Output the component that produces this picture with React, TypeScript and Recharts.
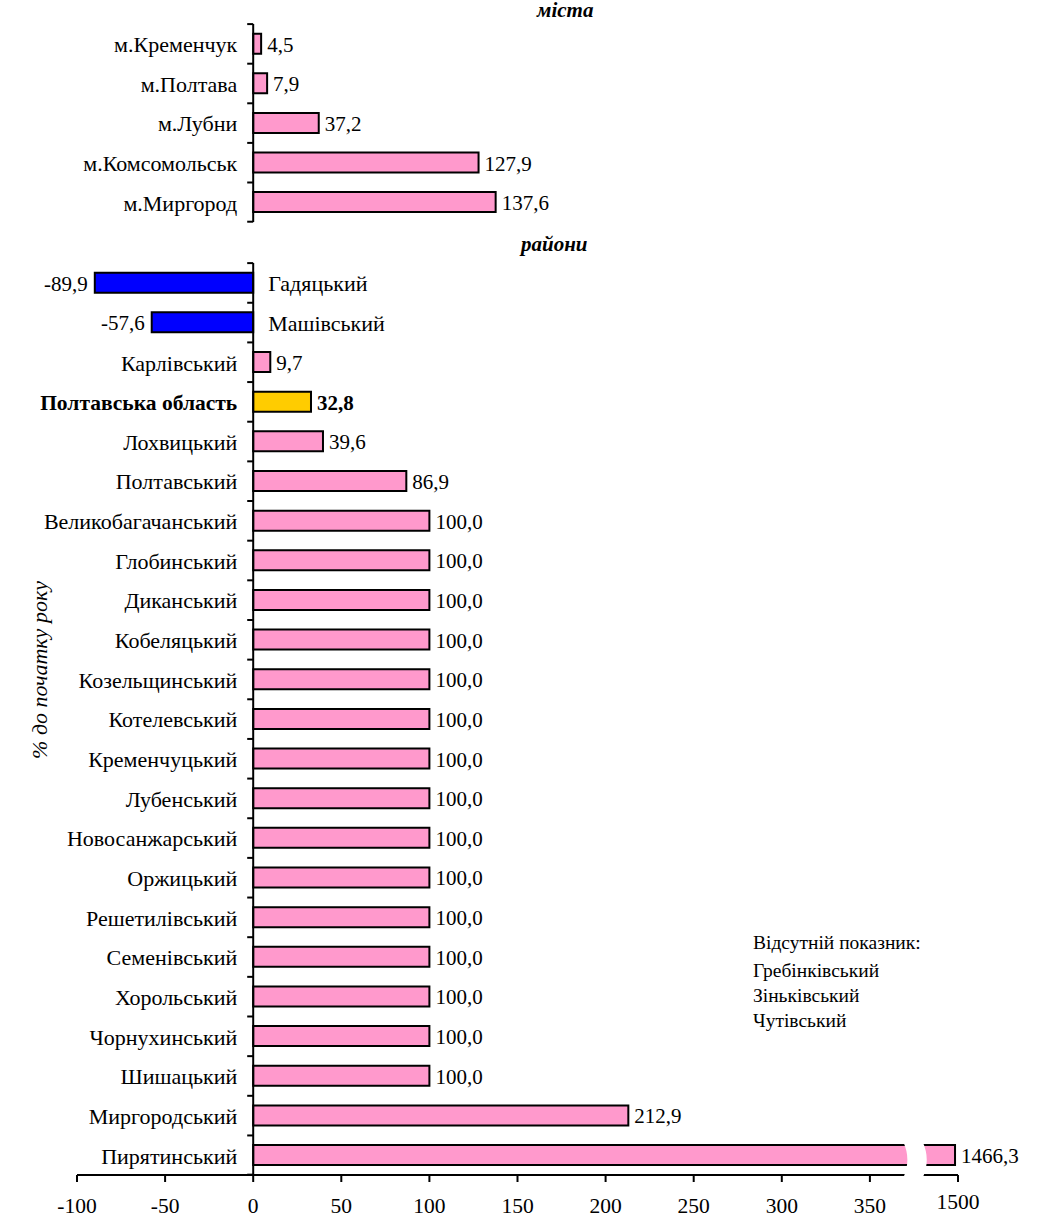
import { Bar, BarChart, Cell, LabelList, ReferenceLine, XAxis, YAxis } from "recharts"

// міста
const cityNames = ['м.Кременчук', 'м.Полтава', 'м.Лубни', 'м.Комсомольськ', 'м.Миргород']
const cityValues = [4.5, 7.9, 37.2, 127.9, 137.6]

// райони
const districtNames = [
    'Гадяцький', 'Машівський', 'Карлівський', 'Полтавська область', 'Лохвицький', 'Полтавський',
    'Великобагачанський', 'Глобинський', 'Диканський', 'Кобеляцький', 'Козельщинський', 'Котелевський',
    'Кременчуцький', 'Лубенський', 'Новосанжарський', 'Оржицький', 'Решетилівський', 'Семенівський',
    'Хорольський', 'Чорнухинський', 'Шишацький', 'Миргородський', 'Пирятинський',
]
const districtValues = [
    -89.9, -57.6, 9.7, 32.8, 39.6, 86.9,
    100.0, 100.0, 100.0, 100.0, 100.0, 100.0,
    100.0, 100.0, 100.0, 100.0, 100.0, 100.0,
    100.0, 100.0, 100.0, 212.9, 1466.3,
]
const REGION = 'Полтавська область'
const missing = ['Гребінківський', 'Зіньківський', 'Чутівський']

const xTicks = [-100, -50, 0, 50, 100, 150, 200, 250, 300, 350]
const AXIS_MAX = 1500

// axis break: 369..380 on the plot scale, values above it squeezed into 380..400
const BREAK_LO = 369
const BREAK_HI = 380
const PLOT_END = 400
const UPPER_FROM = 1100
const toPlot = (v: number) =>
    v <= BREAK_LO ? v : BREAK_HI + ((v - UPPER_FROM) * (PLOT_END - BREAK_HI)) / (AXIS_MAX - UPPER_FROM)

const FONT = '"Liberation Serif", "Times New Roman", serif'
const PINK = '#ff99cc'
const BLUE = '#0000ff'
const GOLD = '#ffcc00'
const GAP = 0.245 // per side of the band

const fmt = (v: number) => v.toFixed(1).replace('.', ',')

type Row = { name: string; value: number; plot: number }
const rows = (names: string[], values: number[]): Row[] =>
    names.map((name, i) => ({ name, value: values[i], plot: toPlot(values[i]) }))

const cities = rows(cityNames, cityValues)
const districts = rows(districtNames, districtValues)

const fillFor = (r: Row) => (r.name === REGION ? GOLD : r.value < 0 ? BLUE : PINK)

function geom(props: any) {
    const vb = props.viewBox && props.viewBox.x !== undefined ? props.viewBox : props
    const x = Number(vb.x), w = Number(vb.width), y = Number(vb.y), h = Number(vb.height)
    return { left: Math.min(x, x + w), right: Math.max(x, x + w), top: Math.min(y, y + h), h: Math.abs(h) }
}

// category name + tick marks at the band borders on the zero axis
const categoryLabel = (data: Row[]) => (props: any) => {
    const r = data[props.index]
    if (!r) return null
    const g = geom(props)
    const neg = r.value < 0
    const zero = neg ? g.right : g.left
    const cy = g.top + g.h / 2
    const band = g.h / (1 - 2 * GAP)
    const last = props.index === data.length - 1
    return (
        <g>
            <line x1={zero - 6} x2={zero} y1={cy - band / 2} y2={cy - band / 2} stroke="#000" strokeWidth={2} />
            {last && <line x1={zero - 6} x2={zero} y1={cy + band / 2} y2={cy + band / 2} stroke="#000" strokeWidth={2} />}
            <text
                x={neg ? zero + 15 : zero - 16}
                y={cy + 1}
                textAnchor={neg ? 'start' : 'end'}
                dominantBaseline="central"
                fontFamily={FONT}
                fontSize={r.name === REGION ? 21.5 : 22}
                fontWeight={r.name === REGION ? 'bold' : 'normal'}
                fill="#000"
            >
                {r.name}
            </text>
        </g>
    )
}

const valueLabel = (data: Row[]) => (props: any) => {
    const r = data[props.index]
    if (!r) return null
    const g = geom(props)
    const neg = r.value < 0
    const cy = g.top + g.h / 2
    return (
        <text
            x={neg ? g.left - 7 : g.right + 6}
            y={cy + 1}
            textAnchor={neg ? 'end' : 'start'}
            dominantBaseline="central"
            fontFamily={FONT}
            fontSize={21}
            fontWeight={r.name === REGION ? 'bold' : 'normal'}
            fill="#000"
        >
            {fmt(r.value)}
        </text>
    )
}

// white gap through the long bar and the x axis
const breakMark = (data: Row[]) => (props: any) => {
    const r = data[props.index]
    if (!r || r.value <= BREAK_LO) return null
    const g = geom(props)
    const ppu = (g.right - g.left) / r.plot
    const b1 = g.left + BREAK_LO * ppu
    const b2 = g.left + BREAK_HI * ppu
    const t = g.top - 3
    const bottom = g.top + g.h / 2 + g.h / (1 - 2 * GAP) / 2 + 3
    const m = (t + bottom) / 2
    return (
        <path
            d={`M${b1},${t} Q${b1 + 8},${m} ${b1},${bottom} L${b2},${bottom} Q${b2 + 8},${m} ${b2},${t} Z`}
            fill="#fff"
            stroke="none"
        />
    )
}

function XTick(props: any) {
    const { x, y, payload } = props
    const v = payload.value
    return (
        <text
            x={x}
            y={y + (v === PLOT_END ? 25 : 29)}
            textAnchor="middle"
            fontFamily={FONT}
            fontSize={21.5}
            fill="#000"
        >
            {v === PLOT_END ? String(AXIS_MAX) : String(v)}
        </text>
    )
}

const W = 1047
const MARGIN_L = 77
const MARGIN_R = 89

function Panel({ data, height, top, bottom, showAxis }: { data: Row[]; height: number; top: number; bottom: number; showAxis: boolean }) {
    return (
        <BarChart
            width={W}
            height={height}
            data={data}
            layout="vertical"
            barCategoryGap={`${GAP * 100}%`}
            margin={{ top, right: MARGIN_R, left: MARGIN_L, bottom }}
        >
            <XAxis
                type="number"
                domain={[-100, PLOT_END]}
                ticks={[...xTicks, toPlot(AXIS_MAX)]}
                hide={!showAxis}
                height={showAxis ? 30 : 0}
                axisLine={{ stroke: '#000', strokeWidth: 2 }}
                tickLine={{ stroke: '#000', strokeWidth: 2 }}
                tickSize={7}
                tick={<XTick />}
                allowDataOverflow
            />
            <YAxis type="category" dataKey="name" hide />
            <ReferenceLine x={0} stroke="#000" strokeWidth={2} />
            <Bar dataKey="plot" stroke="#000" strokeWidth={2} isAnimationActive={false}>
                {data.map((r, i) => (
                    <Cell key={`c-${i}`} fill={fillFor(r)} />
                ))}
                <LabelList dataKey="name" content={categoryLabel(data)} />
                <LabelList dataKey="value" content={valueLabel(data)} />
                <LabelList dataKey="plot" content={breakMark(data)} />
            </Bar>
        </BarChart>
    )
}

const titleStyle: React.CSSProperties = {
    position: 'absolute',
    fontFamily: FONT,
    fontSize: 21,
    fontWeight: 'bold',
    fontStyle: 'italic',
    lineHeight: '22px',
    whiteSpace: 'nowrap',
}

export default function App() {
    return (
        <div style={{ position: 'absolute', left: 0, top: 0, width: W, height: 1217, background: '#fff' }}>
            <div style={{ position: 'absolute', left: 0, top: 0 }}>
                <Panel data={cities} height={240} top={24} bottom={18} showAxis={false} />
            </div>
            <div style={{ position: 'absolute', left: 0, top: 240 }}>
                <Panel data={districts} height={977} top={23} bottom={12} showAxis />
            </div>
            <div style={{ ...titleStyle, left: 537, top: -1 }}>міста</div>
            <div style={{ ...titleStyle, left: 521, top: 233 }}>райони</div>
            <div
                style={{
                    position: 'absolute',
                    left: 40,
                    top: 670,
                    transform: 'translate(-50%, -50%) rotate(-90deg)',
                    fontFamily: FONT,
                    fontSize: 22,
                    fontStyle: 'italic',
                    whiteSpace: 'nowrap',
                }}
            >
                % до початку року
            </div>
            <div style={{ position: 'absolute', left: 753, top: 930, fontFamily: FONT, fontSize: 19.5, lineHeight: '25px', whiteSpace: 'nowrap' }}>
                <div style={{ marginBottom: 3 }}>Відсутній показник:</div>
                {missing.map((m) => (
                    <div key={m}>{m}</div>
                ))}
            </div>
        </div>
    )
}
